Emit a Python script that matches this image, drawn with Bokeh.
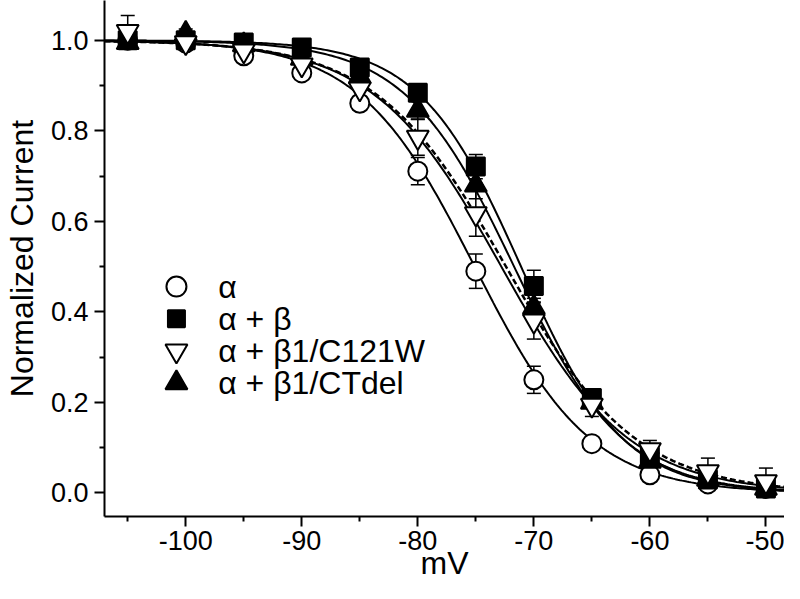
import numpy as np
from bokeh.plotting import figure
from bokeh.models import Range1d, FixedTicker, ColumnDataSource, Whisker, TeeHead
from bokeh.core.properties import value
from bokeh.embed import file_html
from bokeh.resources import INLINE

# ---- data ----
voltage = [-105, -100, -95, -90, -85, -80, -75, -70, -65, -60, -55, -50]

alpha_vals = [1.00, 0.994, 0.966, 0.928, 0.861, 0.711, 0.49, 0.25, 0.109, 0.04, 0.02, 0.01]
alpha_err = [0.01, 0.01, 0.01, 0.01, 0.015, 0.03, 0.038, 0.03, 0.01, 0.015, 0.01, 0.01]

beta_vals = [1.00, 1.00, 0.995, 0.984, 0.94, 0.884, 0.721, 0.457, 0.21, 0.08, 0.03, 0.01]
beta_err = [0.005, 0.005, 0.01, 0.01, 0.01, 0.01, 0.027, 0.035, 0.02, 0.01, 0.01, 0.01]

c121w_vals = [1.02, 0.995, 0.977, 0.946, 0.893, 0.786, 0.617, 0.38, 0.194, 0.096, 0.047, 0.025]
c121w_err = [0.035, 0.01, 0.01, 0.01, 0.02, 0.04, 0.05, 0.04, 0.025, 0.02, 0.03, 0.03]

ctdel_vals = [0.995, 1.015, 0.99, 0.96, 0.92, 0.845, 0.68, 0.41, 0.20, 0.07, 0.03, 0.01]
ctdel_err = [0.01, 0.01, 0.01, 0.01, 0.01, 0.02, 0.03, 0.02, 0.01, 0.01, 0.01, 0.01]

# Boltzmann fit parameters (V1/2, slope k) for the fitted curves
fit_vhalf = [-75.1, -71.1, -72.8, -71.7, -72.4]
fit_k = [5.0, 4.4, 5.5, 4.7, 5.6]
fit_dash = ["solid", "solid", "solid", "solid", "6 3"]

x_ticks = [-100, -90, -80, -70, -60, -50]
x_tick_labels = ["-100", "-90", "-80", "-70", "-60", "-50"]
x_minor = [-105, -95, -85, -75, -65, -55]
y_ticks = [0.0, 0.2, 0.4, 0.6, 0.8, 1.0]
y_tick_labels = ["0.0", "0.2", "0.4", "0.6", "0.8", "1.0"]
y_minor = [0.1, 0.3, 0.5, 0.7, 0.9]

legend_labels = ["α", "α + β", "α + β1/C121W", "α + β1/CTdel"]

FONT = "Liberation Sans"

p = figure(width=784, height=583, x_range=Range1d(-107, -48.4), y_range=Range1d(-0.052, 1.088),
           output_backend="svg", toolbar_location=None,
           min_border_left=95, min_border_right=0, min_border_top=0, min_border_bottom=60)
p.outline_line_color = None
p.xgrid.visible = False
p.ygrid.visible = False
p.background_fill_color = "white"
p.border_fill_color = "white"

for ax in (p.xaxis[0], p.yaxis[0]):
    ax.axis_line_width = 2
    ax.axis_line_color = "black"
    ax.major_tick_line_width = 2
    ax.minor_tick_line_width = 2
    ax.major_tick_line_color = "black"
    ax.minor_tick_line_color = "black"
    ax.major_tick_in = 0
    ax.minor_tick_in = 0
    ax.major_tick_out = 10
    ax.minor_tick_out = 5
    ax.major_label_text_font = FONT
    ax.major_label_text_font_size = "27px"
    ax.major_label_text_color = "black"
    ax.axis_label_text_font = FONT
    ax.axis_label_text_font_size = "32px"
    ax.axis_label_text_font_style = "normal"
    ax.axis_label_text_color = "black"

p.xaxis.ticker = FixedTicker(ticks=x_ticks, minor_ticks=x_minor)
p.xaxis.major_label_overrides = {t: l for t, l in zip(x_ticks, x_tick_labels)}
p.yaxis.ticker = FixedTicker(ticks=y_ticks, minor_ticks=y_minor)
p.yaxis.major_label_overrides = {t: l for t, l in zip(y_ticks, y_tick_labels)}
p.xaxis.major_label_standoff = 4
p.yaxis.major_label_standoff = 6
p.xaxis.axis_label = "mV"
p.yaxis.axis_label = "Normalized Current"
p.xaxis.axis_label_standoff = -8
p.yaxis.axis_label_standoff = 8

# fitted curves
vgrid = np.linspace(-107, -48.4, 300)
for vh, k, dash in zip(fit_vhalf, fit_k, fit_dash):
    yfit = 1.0 / (1.0 + np.exp((vgrid - vh) / k))
    p.line(vgrid, yfit, line_color="black", line_width=2 if dash == "solid" else 2.5,
           line_dash=dash)

series = [
    (alpha_vals, alpha_err, "circle", "white", 19),
    (beta_vals, beta_err, "square", "black", 18),
    (ctdel_vals, ctdel_err, "triangle", "black", 22),
    (c121w_vals, c121w_err, "inverted_triangle", "white", 22),
]

for vals, err, marker, fill, size in series:
    src = ColumnDataSource(dict(
        x=voltage, y=vals,
        upper=[v + e for v, e in zip(vals, err)],
        lower=[v - e for v, e in zip(vals, err)],
    ))
    w = Whisker(source=src, base="x", upper="upper", lower="lower",
                line_color="black", line_width=1.5,
                upper_head=TeeHead(size=14, line_width=1.5, line_color="black"),
                lower_head=TeeHead(size=14, line_width=1.5, line_color="black"))
    p.add_layout(w)
    p.scatter("x", "y", source=src, marker=marker, size=size,
              fill_color=fill, line_color="black", line_width=2)

# legend (drawn as keys + labels inside the plot area)
legend_markers = ["circle", "square", "inverted_triangle", "triangle"]
legend_fills = ["white", "black", "white", "black"]
legend_sizes = [20, 17, 22, 22]
leg_x_key = -100.8
leg_x_text = -97.2
leg_y0 = 0.456
leg_dy = 0.071
leg_y = [leg_y0 - i * leg_dy for i in range(len(legend_labels))]
leg_src = ColumnDataSource(dict(
    xk=[leg_x_key] * 4, xt=[leg_x_text] * 4, y=leg_y,
    marker=legend_markers, fill=legend_fills, size=legend_sizes, label=legend_labels))
p.scatter("xk", "y", source=leg_src, marker="marker", size="size",
          fill_color="fill", line_color="black", line_width=2)
p.text("xt", "y", text="label", source=leg_src, text_font=value(FONT),
       text_font_size="32px", text_baseline="middle", text_align="left", text_color="black")

open("out.html", "w").write(file_html(p, INLINE))
